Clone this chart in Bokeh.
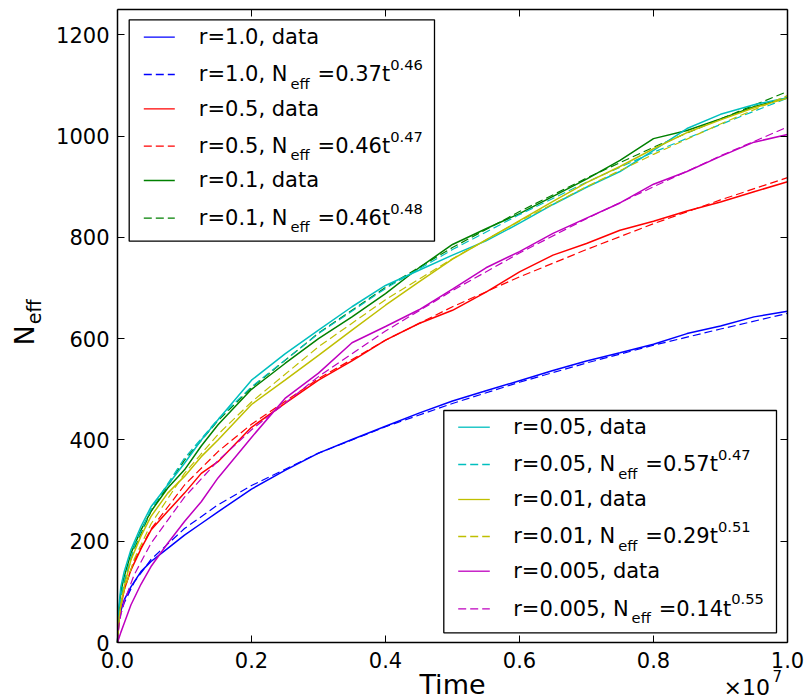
import math
from bokeh.plotting import figure
from bokeh.models import (LinearAxis, FixedTicker, NumeralTickFormatter, Range1d,
                          BoxAnnotation, Arrow, Label)
from bokeh.embed import file_html
from bokeh.resources import INLINE

# ---------------- data (time in units of 1e7) ----------------
TIME_DATA = [0, 0.002, 0.005, 0.01, 0.02, 0.035, 0.05, 0.075, 0.1, 0.125, 0.15, 0.2,
             0.25, 0.3, 0.35, 0.4, 0.45, 0.5, 0.55, 0.6, 0.65, 0.7, 0.75, 0.8, 0.85,
             0.9, 0.95, 1.0]
N_R1 = [0, 50, 62, 84, 110, 140, 160, 186, 212, 235, 258, 303, 340, 374, 401, 427,
        453, 477, 497, 517, 537, 556, 572, 589, 610, 625, 643, 654]
N_R05 = [0, 40, 71, 104, 143, 185, 222, 259, 295, 334, 357, 425, 472, 518, 556, 597,
         630, 656, 692, 732, 765, 788, 814, 832, 852, 870, 890, 910]
N_R01 = [0, 60, 100, 130, 176, 222, 259, 305, 341, 388, 430, 500, 551, 600, 643, 689,
         740, 786, 817, 847, 881, 915, 952, 995, 1011, 1034, 1058, 1076]
N_R005 = [0, 70, 110, 140, 183, 229, 268, 311, 354, 400, 440, 518, 570, 617, 663, 705,
          735, 765, 793, 828, 865, 899, 930, 972, 1015, 1043, 1062, 1076]
N_R001 = [0, 40, 75, 110, 163, 210, 249, 295, 328, 367, 400, 470, 518, 567, 617, 666,
          712, 757, 795, 833, 871, 908, 940, 975, 1007, 1032, 1056, 1075]
N_R0005 = [0, 8, 20, 38, 74, 115, 150, 196, 239, 278, 325, 405, 482, 532, 592, 624,
           657, 698, 740, 772, 808, 838, 868, 905, 930, 960, 988, 1003]

TIME_FIT = [0, 0.002, 0.005, 0.01, 0.025, 0.05, 0.1, 0.15, 0.2, 0.3, 0.4, 0.5, 0.6,
            0.7, 0.8, 0.9, 1.0]
FIT_R1 = [0, 37, 57, 78, 119, 164, 225, 272, 310, 374, 426, 472, 514, 552, 587, 619, 650]
FIT_R05 = [0, 49, 76, 105, 162, 224, 311, 377, 431, 521, 597, 663, 722, 776, 827, 874, 918]
FIT_R01 = [0, 55, 86, 119, 185, 259, 360, 438, 503, 611, 701, 780, 851, 917, 978, 1034, 1088]
FIT_R005 = [0, 58, 89, 123, 190, 263, 364, 441, 505, 610, 699, 776, 845, 909, 968, 1023, 1075]
FIT_R001 = [0, 45, 72, 103, 165, 234, 334, 411, 475, 584, 677, 758, 832, 900, 964, 1024, 1080]
FIT_R0005 = [0, 33, 55, 81, 134, 196, 287, 359, 420, 525, 615, 695, 769, 837, 900, 961, 1018]

R_LABELS = ["1.0", "0.5", "0.1", "0.05", "0.01", "0.005"]
FIT_COEF = ["0.37", "0.46", "0.46", "0.57", "0.29", "0.14"]
FIT_EXP = ["0.46", "0.47", "0.48", "0.47", "0.51", "0.55"]
COLORS = ["#0000ff", "#ff0000", "#008000", "#00bfbf", "#bfbf00", "#bf00bf"]
DATA_SERIES = [N_R1, N_R05, N_R01, N_R005, N_R001, N_R0005]
FIT_SERIES = [FIT_R1, FIT_R05, FIT_R01, FIT_R005, FIT_R001, FIT_R0005]

X_TICKS = [0.0, 0.2, 0.4, 0.6, 0.8, 1.0]
Y_TICKS = [0, 200, 400, 600, 800, 1000, 1200]
X_MIN, X_MAX = 0.0, 1.0
Y_MIN, Y_MAX = 0.0, 1250.0

# ---------------- layout (pixels on the canvas) ----------------
CW, CH = 804, 700
BOX_L, BOX_R, BOX_T, BOX_B = 117, 787, 9, 642
FONT = "DejaVu Sans"
DASH = "8 4"
BASE_CORR = 0.37   # em shift so that a label's y is its alphabetic baseline

# ranges chosen so that the data box lands on BOX_* while the frame fills the canvas
xppu = (BOX_R - BOX_L) / (X_MAX - X_MIN)
yppu = (BOX_B - BOX_T) / (Y_MAX - Y_MIN)
x_range = Range1d(X_MIN - BOX_L / xppu, X_MAX + (CW - BOX_R) / xppu)
y_range = Range1d(Y_MIN - (CH - BOX_B) / yppu, Y_MAX + BOX_T / yppu)

# DejaVu Sans advance widths (em)
W = {'r': .411, '=': .838, '.': .318, ',': .318, ' ': .318, 'N': .748, 't': .392,
     'e': .615, 'f': .352, 'd': .635, 'a': .613, '\u00d7': .838}
for c in "0123456789":
    W[c] = .636


def tw(s, size):
    return sum(W.get(c, .6) for c in s) * size


p = figure(width=CW, height=CH, x_range=x_range, y_range=y_range,
           output_backend="svg", toolbar_location=None,
           min_border_left=0, min_border_right=0, min_border_top=0,
           min_border_bottom=0)
p.grid.visible = False
p.background_fill_color = "white"
p.border_fill_color = "white"
p.outline_line_color = None


def style_axis(ax, show_labels, standoff):
    ax.axis_line_color = "black"
    ax.axis_line_width = 1.5
    ax.major_tick_in = 7
    ax.major_tick_out = 0
    ax.minor_tick_in = 0
    ax.minor_tick_out = 0
    ax.major_tick_line_color = "black"
    ax.major_tick_line_width = 1
    ax.major_label_text_font = FONT
    ax.major_label_text_font_size = "21px"
    ax.major_label_standoff = standoff
    if show_labels:
        ax.major_label_text_color = "black"
    else:
        ax.major_label_text_color = None


xa = p.xaxis[0]
xa.ticker = FixedTicker(ticks=X_TICKS)
xa.formatter = NumeralTickFormatter(format="0.0")
xa.fixed_location = Y_MIN
xa.bounds = (X_MIN, X_MAX)
style_axis(xa, True, 9)

ya = p.yaxis[0]
ya.ticker = FixedTicker(ticks=Y_TICKS)
ya.formatter = NumeralTickFormatter(format="0")
ya.fixed_location = X_MIN
ya.bounds = (Y_MIN, Y_MAX)
style_axis(ya, True, 8)

top = LinearAxis(ticker=FixedTicker(ticks=X_TICKS), fixed_location=Y_MAX,
                 bounds=(X_MIN, X_MAX))
style_axis(top, False, 0)
p.add_layout(top, "above")
right = LinearAxis(ticker=FixedTicker(ticks=Y_TICKS), fixed_location=X_MAX,
                   bounds=(Y_MIN, Y_MAX))
style_axis(right, False, 0)
p.add_layout(right, "right")

for data, fit, col in zip(DATA_SERIES, FIT_SERIES, COLORS):
    p.line(TIME_DATA, data, line_color=col, line_width=1.5)
    p.line(TIME_FIT, fit, line_color=col, line_width=1.2, line_dash=DASH)


def sy(Y):
    """canvas pixel row (from top) -> screen units (from bottom)"""
    return CH - Y


def add_text(X, Y, text, size, angle=0.0, align="left"):
    # (X, Y): wanted baseline point in canvas pixels (Y from top)
    d = BASE_CORR * size
    X = X - d * math.sin(angle)
    Y = Y - d * math.cos(angle)
    p.add_layout(Label(x=X, y=sy(Y), x_units="screen", y_units="screen", text=text,
                       text_font=FONT, text_font_size=f"{size}px", text_color="black",
                       text_baseline="alphabetic", text_align=align, angle=angle))


def draw_legend(box, lx0, lx1, rows_y, text_x, idxs):
    left, right_, top_, bottom = box
    p.add_layout(BoxAnnotation(left=left, right=right_, top=sy(top_), bottom=sy(bottom),
                               left_units="screen", right_units="screen",
                               top_units="screen", bottom_units="screen",
                               fill_color="white", fill_alpha=1.0,
                               line_color="black", line_alpha=1.0, line_width=1.3))
    row = 0
    for i in idxs:
        for kind in ("data", "fit"):
            Y = rows_y[row]
            row += 1
            p.add_layout(Arrow(x_start=lx0, y_start=sy(Y), x_end=lx1, y_end=sy(Y),
                               start_units="screen", end_units="screen", end=None,
                               line_color=COLORS[i], line_width=1.3,
                               line_dash="solid" if kind == "data" else DASH))
            base = Y + 7.6
            if kind == "data":
                add_text(text_x, base, f"r={R_LABELS[i]}, data", 21)
            else:
                t1 = f"r={R_LABELS[i]}, N"
                add_text(text_x, base, t1, 21)
                x2 = text_x + tw(t1, 21) + 3
                add_text(x2, base + 6.5, "eff", 14.7)
                x3 = x2 + tw("eff", 14.7) + 1 + tw(" ", 21)
                t3 = f"={FIT_COEF[i]}t"
                add_text(x3, base, t3, 21)
                x4 = x3 + tw(t3, 21)
                add_text(x4, base - 11.7, FIT_EXP[i], 14.7)


draw_legend((128.7, 434, 19.3, 240.7), 143.3, 174.3,
            [36.7, 74, 108.3, 145.7, 180, 217.7], 198.3, [0, 1, 2])
draw_legend((443.3, 776, 410, 632.3), 457.7, 489.3,
            [426.7, 464, 499, 536, 570.7, 608.3], 512.7, [3, 4, 5])

# axis titles and offset text
add_text((BOX_L + BOX_R) / 2, 693.5, "Time", 27, align="center")
add_text(723, 695, "\u00d710", 22)
add_text(723 + tw("\u00d710", 22) + 2.5, 681, "7", 15)
add_text(34, 345, "N", 27, angle=math.pi / 2)
add_text(41, 345 - tw("N", 27) - 1, "eff", 19, angle=math.pi / 2)

open("out.html", "w").write(file_html(p, INLINE))
